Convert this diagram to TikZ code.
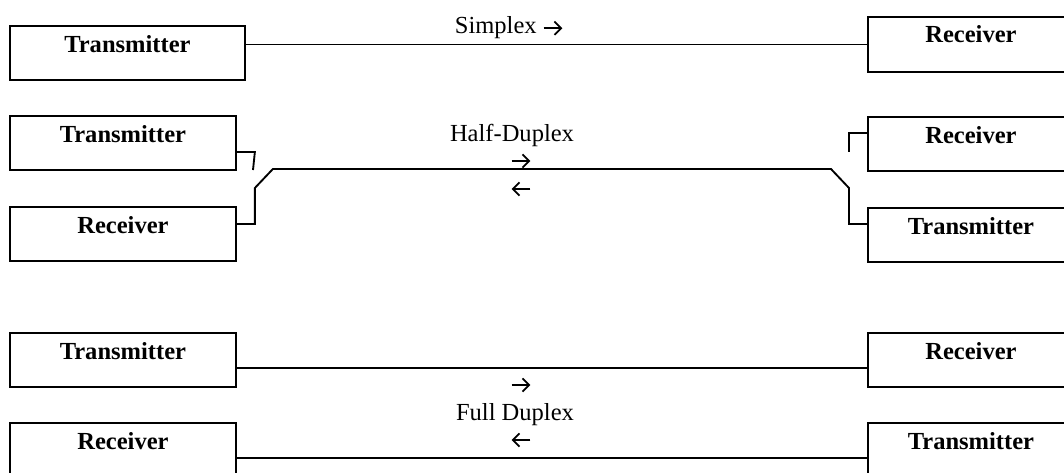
\documentclass[tikz,border=0pt]{standalone}
\usepackage{fontspec}
\setmainfont{Liberation Serif}
\usetikzlibrary{arrows.meta}
% open-headed text arrows used in the channel captions
\newcommand\chright{\tikz[baseline=-3.6pt]\draw[line width=1.25pt,
  -{Straight Barb[length=5pt,width=10pt,line width=1.25pt]}] (0,0) -- (14pt,0);}
\newcommand\chleft{\tikz[baseline=-3.6pt]\draw[line width=1.25pt,
  -{Straight Barb[length=5pt,width=10pt,line width=1.25pt]}] (14pt,0) -- (0,0);}
\begin{document}
\begin{tikzpicture}[x=0.75pt,y=-0.75pt,
  font=\fontsize{18.4}{22}\selectfont,
  unit/.style={draw, line width=1.4pt, rectangle, anchor=north west,
    inner xsep=0pt, inner ysep=0pt, text height=19.8pt, text depth=21pt,
    font=\fontsize{18.4}{22}\selectfont\bfseries},
  wire/.style={line width=1.4pt, line join=miter},
  caption/.style={anchor=base, inner sep=0pt},
  tip/.style={anchor=center, inner sep=0pt}]
\clip (0,0) rectangle (1064,472);

% ---- simplex ----
\node[unit, minimum width=176.25pt] (tx1) at (9,25) {Transmitter};
\node[unit, minimum width=154.5pt, text height=19.5pt, text depth=21.75pt] (rx1) at (867,16) {Receiver};
\draw[wire] (rx1.west -| tx1.east) -- (rx1.west);
\node[caption] (simplex) at (509,33) {Simplex \chright};

% ---- half duplex ----
\node[unit, minimum width=169.5pt] (tx2) at (9,115) {Transmitter};
\node[unit, minimum width=169.5pt] (rx2) at (9,206) {Receiver};
\node[unit, minimum width=154.5pt] (rx2r) at (867,116) {Receiver};
\node[unit, minimum width=154.5pt] (tx2r) at (867,207) {Transmitter};
\coordinate (swl) at (253,170);
\coordinate (swr) at (849,152);
\draw[wire] ([yshift=-27.75pt]tx2.north east) -- ++(18,0) -- (swl);
\draw[wire] ([yshift=-12.75pt]rx2r.north west) -- ++(-18,0) -- (swr);
\draw[wire] ([yshift=-13.5pt]rx2.north east) -- ++(18,0) -- ++(0,-36)
  -- ++(18,-19) -- (831,169) -- ++(18,19) |- ([yshift=-12.75pt]tx2r.north west);
\node[caption] (half) at (512,141) {Half-Duplex};
\node[tip] (half-r) at (521,161) {\chright};
\node[tip] (half-l) at (521,189) {\chleft};

% ---- full duplex ----
\node[unit, minimum width=169.5pt] (tx3) at (9,332) {Transmitter};
\node[unit, minimum width=169.5pt] (rx3) at (9,422) {Receiver};
\node[unit, minimum width=154.5pt] (rx3r) at (867,332) {Receiver};
\node[unit, minimum width=154.5pt] (tx3r) at (867,422) {Transmitter};
\draw[wire] ([yshift=-27pt]tx3.north east) -- ([yshift=-27pt]rx3r.north west);
\draw[wire] ([yshift=-27pt]rx3.north east) -- ([yshift=-27pt]tx3r.north west);
\node[tip] (full-r) at (521,385) {\chright};
\node[caption] (full) at (515,420) {Full Duplex};
\node[tip] (full-l) at (521,440) {\chleft};
\end{tikzpicture}
\end{document}
